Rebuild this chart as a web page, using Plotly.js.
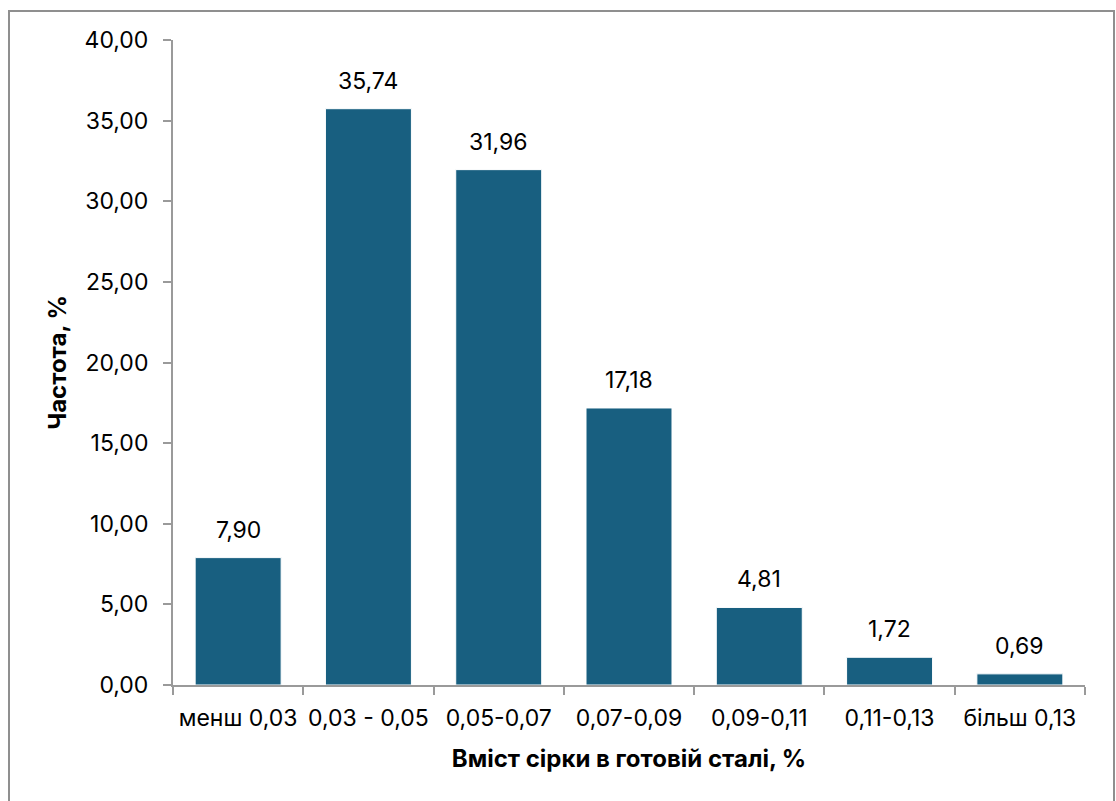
<!DOCTYPE html>
<html>
<head>
<meta charset="utf-8">
<script src="https://cdn.plot.ly/plotly-3.0.1.min.js"></script>
<style>
  html, body { margin: 0; padding: 0; background: #fff; }
  #wrap { position: relative; width: 1116px; height: 801px; overflow: hidden; }
  #chart { position: absolute; left: 0; top: 0; width: 1116px; height: 801px; }
  #frame { position: absolute; left: 8px; top: 10px; width: 1103px; height: 820px;
           border: 2px solid #8f8f8f; pointer-events: none; }
</style>
</head>
<body>
<div id="wrap">
  <div id="chart"></div>
  <div id="frame"></div>
</div>
<script>
const categories = ["менш 0,03", "0,03 - 0,05", "0,05-0,07", "0,07-0,09", "0,09-0,11", "0,11-0,13", "більш 0,13"];
const frequency = [7.90, 35.74, 31.96, 17.18, 4.81, 1.72, 0.69];
const yTitle = "Частота, %";
const xTitle = "Вміст сірки в готовій сталі, %";

const FONT = "Inter, 'Liberation Sans', Arial, sans-serif";
const fmt = v => v.toFixed(2).replace('.', ',');

const trace = {
  type: 'bar',
  x: categories,
  y: frequency,
  marker: { color: '#185f80', line: { color: '#ffffff', width: 1 } },
  hoverinfo: 'x+y'
};

const annotations = categories.map((c, i) => ({
  x: c, y: frequency[i], xref: 'x', yref: 'y',
  text: fmt(frequency[i]), showarrow: false,
  yanchor: 'middle', yshift: 28,
  font: { family: FONT, size: 23, color: '#000' }
}));

const layout = {
  width: 1116, height: 801,
  margin: { l: 173, r: 31, t: 40, b: 116 },
  paper_bgcolor: 'rgba(0,0,0,0)',
  plot_bgcolor: 'rgba(0,0,0,0)',
  separators: ', ',
  bargap: 0.34,
  showlegend: false,
  font: { family: FONT, size: 23, color: '#000' },
  xaxis: {
    type: 'category',
    tickangle: 0,
    showline: true, linecolor: '#9a9a9a', linewidth: 2,
    ticks: 'outside', tickson: 'boundaries', ticklen: 8, tickcolor: '#9a9a9a', tickwidth: 2,
    ticklabelstandoff: 11,
    showgrid: false, zeroline: false,
    tickfont: { family: FONT, size: 23, color: '#000' },
    title: { text: xTitle, font: { family: FONT, size: 24, color: '#000', weight: 'bold' }, standoff: 20 }
  },
  yaxis: {
    range: [0, 40], dtick: 5, tick0: 0,
    tickformat: '.2f',
    showline: true, linecolor: '#9a9a9a', linewidth: 2,
    ticks: 'outside', ticklen: 8, tickcolor: '#9a9a9a', tickwidth: 2,
    ticklabelstandoff: 10,
    showgrid: false, zeroline: false,
    tickfont: { family: FONT, size: 23, color: '#000' },
    title: { text: yTitle, font: { family: FONT, size: 24, color: '#000', weight: 'bold' }, standoff: 11 }
  },
  annotations: annotations
};

Plotly.newPlot('chart', [trace], layout, { displayModeBar: false, staticPlot: true });
</script>
</body>
</html>
